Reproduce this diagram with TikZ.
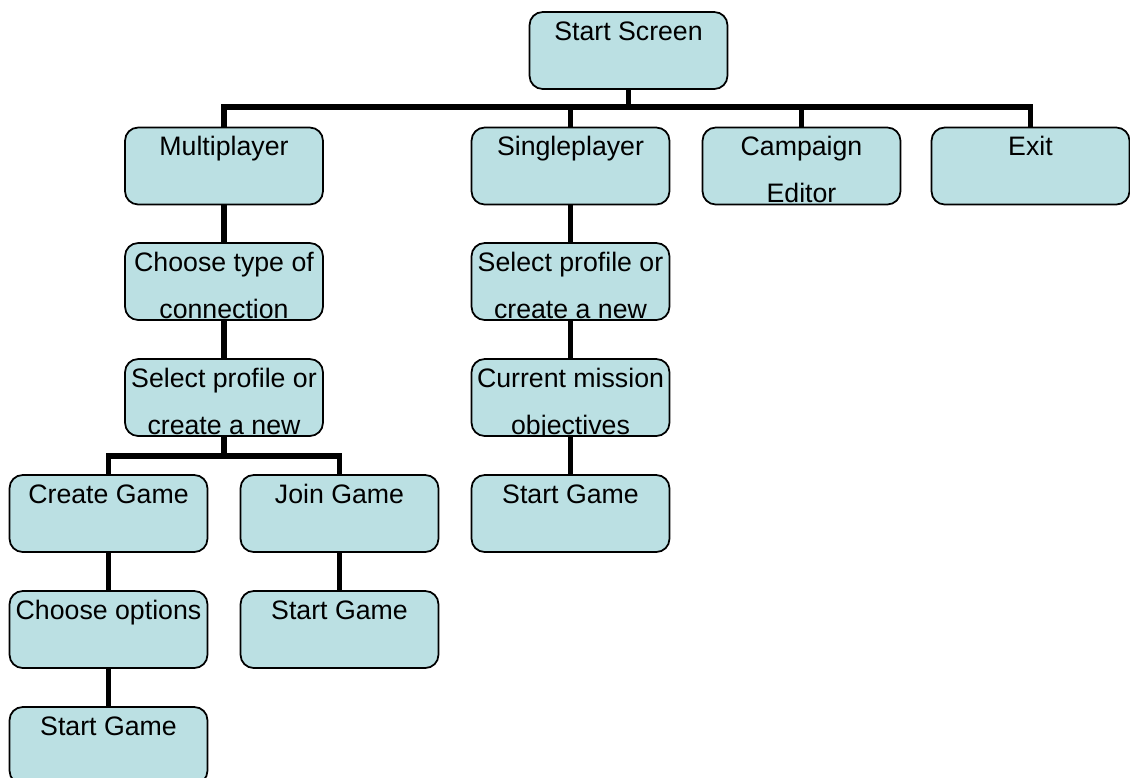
\documentclass[tikz,border=0pt]{standalone}
\usepackage{fontspec}
\setmainfont{Liberation Sans}
\usetikzlibrary{positioning}
\definecolor{boxfill}{RGB}{187,224,227}
\tikzset{
  menubox/.style={draw=black, line width=1pt, fill=boxfill, rounded corners=7.5pt,
    minimum width=3.96cm, minimum height=1.54cm, inner sep=0pt},
  menutext/.style={anchor=base, inner sep=0pt, font=\fontsize{15.2}{18}\selectfont},
  link/.style={line width=3pt}
}

\begin{document}
\begin{tikzpicture}[x=0.02cm, y=-0.02cm]
    \useasboundingbox (0,0) rectangle (1130,778);
    \clip (0,0) rectangle (1130,778);
    % menu screens
    \node[menubox] (start) at (628.5,50.5) {};
    \node[menubox] (mp) at (224,166) {};
    \node[menubox] (sp) at (570.5,166) {};
    \node[menubox] (ce) at (801.5,166) {};
    \node[menubox] (ex) at (1030.5,166) {};
    \node[menubox] (cto) at (224,281.5) {};
    \node[menubox] (selm) at (224,397.5) {};
    \node[menubox] (cg) at (108.5,513.5) {};
    \node[menubox] (jg) at (339.5,513.5) {};
    \node[menubox] (co) at (108.5,629.5) {};
    \node[menubox] (sgj) at (339.5,629.5) {};
    \node[menubox] (sgc) at (108.5,745.5) {};
    \node[menubox] (sels) at (570.5,281.5) {};
    \node[menubox] (cmo) at (570.5,397.5) {};
    \node[menubox] (sgs) at (570.5,513.5) {};
    % texts, cut off at the box border
    \foreach \n/\a/\b in {start/Start Screen/, mp/Multiplayer/, sp/Singleplayer/,
        ce/Campaign/Editor, ex/Exit/, cto/Choose type of/connection,
        selm/Select profile or/create a new, cg/Create Game/, jg/Join Game/,
        co/Choose options/, sgj/Start Game/, sgc/Start Game/,
        sels/Select profile or/create a new, cmo/Current mission/objectives,
        sgs/Start Game/} {
        \begin{scope}
            \clip[rounded corners=7.5pt] (\n.south west) rectangle (\n.north east);
            \node[menutext] (\n-l1) at ([yshift=-16.6pt]\n.north) {\a};
            \node[menutext] (\n-l2) at ([yshift=-43.4pt]\n.north) {\b};
        \end{scope}
    }
    % connectors
    \coordinate (topbus) at (628.5,107);
    \coordinate (mpbus) at (224,456);
    \draw[link] (start.south) -- (start.south |- topbus);
    \draw[link] (mp.north) |- (ex.north |- topbus) -- (ex.north);
    \draw[link] (sp.north) -- (sp.north |- topbus);
    \draw[link] (ce.north) -- (ce.north |- topbus);
    \draw[link] (mp) -- (cto);
    \draw[link] (cto) -- (selm);
    \draw[link] (selm.south) -- (selm.south |- mpbus);
    \draw[link] (cg.north) |- (jg.north |- mpbus) -- (jg.north);
    \draw[link] (cg) -- (co);
    \draw[link] (co) -- (sgc);
    \draw[link] (jg) -- (sgj);
    \draw[link] (sp) -- (sels);
    \draw[link] (sels) -- (cmo);
    \draw[link] (cmo) -- (sgs);
\end{tikzpicture}
\end{document}
